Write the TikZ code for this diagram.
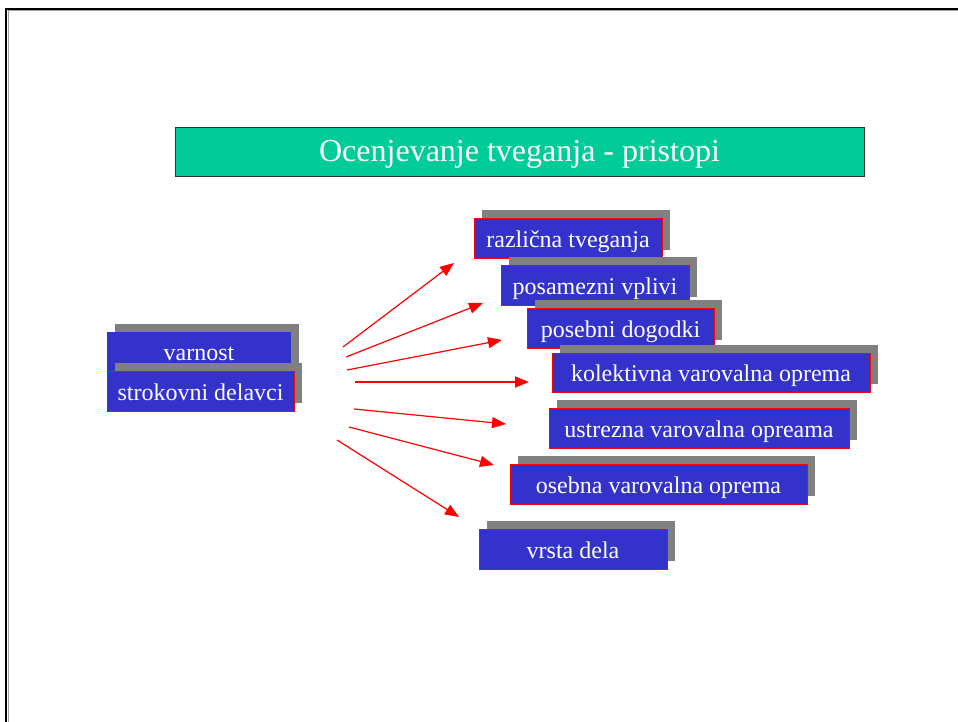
\documentclass[tikz,border=0pt]{standalone}
\usepackage{fontspec}
\setmainfont{Liberation Serif}
\newfontfamily\boxfont{Liberation Serif}
\usetikzlibrary{arrows.meta,shadows}
\definecolor{boxblue}{RGB}{51,51,204}
\definecolor{titlegreen}{RGB}{0,204,153}
\definecolor{shadowgray}{RGB}{128,128,128}
\definecolor{framegray}{RGB}{160,160,160}
\tikzset{
  titlebox/.style={draw=black!80, line width=0.8pt, fill=titlegreen, text=white,
    font=\boxfont\fontsize{32}{36}\selectfont, inner sep=0pt, minimum height=49pt,
    text height=27pt, text depth=6pt},
  itembox/.style={fill=boxblue, text=white, draw=red, line width=0.9pt,
    font=\boxfont\fontsize{24}{28}\selectfont, inner sep=0pt, minimum height=40pt,
    text height=22pt, text depth=4pt,
    general shadow={fill=shadowgray, draw=none, shadow xshift=8pt, shadow yshift=8pt}},
  plainbox/.style={itembox, draw=none, text height=20pt},
  link/.style={red, line width=1.2pt, -{Triangle[length=14pt,width=11pt]}}
}
\begin{document}
\begin{tikzpicture}[x=1pt,y=-1pt]
  \useasboundingbox (0,0) rectangle (958,722);
  % page frame
  \draw[framegray, line width=1pt] (960,10.8) -- (8.3,10.8) -- (8.3,724);
  \draw[black, line width=2pt] (960,8.8) -- (6.3,8.8) -- (6.3,724);

  % heading
  \node[titlebox, minimum width=689pt] (title) at (519.5,151.5) {Ocenjevanje tveganja - pristopi};

  % left group
  \node[plainbox, minimum width=184pt] (varnost) at (199,352) {varnost};
  \node[itembox, minimum width=187pt] (strokovni) at (200.5,391) {strokovni delavci};

  % right column
  \node[itembox, minimum width=188pt] (razlicna) at (568,238) {različna tveganja};
  \node[itembox, minimum width=188pt] (posamezni) at (595,285) {posamezni vplivi};
  \node[itembox, minimum width=187pt] (posebni) at (620.5,328) {posebni dogodki};
  \node[itembox, minimum width=318pt, minimum height=39pt] (kolektivna) at (711,372.5) {kolektivna varovalna oprema};
  \node[itembox, minimum width=300pt] (ustrezna) at (699,428) {ustrezna varovalna opreama};
  \node[itembox, minimum width=297pt] (osebna) at (658.5,484) {osebna varovalna oprema};
  \node[itembox, minimum width=188pt] (vrsta) at (573,549) {vrsta dela};

  % arrow ends
  \coordinate (s1) at (343,347);  \coordinate (e1) at (454,263);
  \coordinate (s2) at (346,357);  \coordinate (e2) at (483,303);
  \coordinate (s3) at (347,370);  \coordinate (e3) at (502,340);
  \coordinate (s4) at (355,382);  \coordinate (e4) at (529,382);
  \coordinate (s5) at (354,409);  \coordinate (e5) at (506,424);
  \coordinate (s6) at (349,427);  \coordinate (e6) at (494,465);
  \coordinate (s7) at (337,440);  \coordinate (e7) at (459,517);

  \draw[link] (s1) -- (e1);
  \draw[link] (s2) -- (e2);
  \draw[link] (s3) -- (e3);
  \draw[link, line width=1.6pt] (s4) -- (e4);
  \draw[link] (s5) -- (e5);
  \draw[link] (s6) -- (e6);
  \draw[link] (s7) -- (e7);
\end{tikzpicture}
\end{document}
